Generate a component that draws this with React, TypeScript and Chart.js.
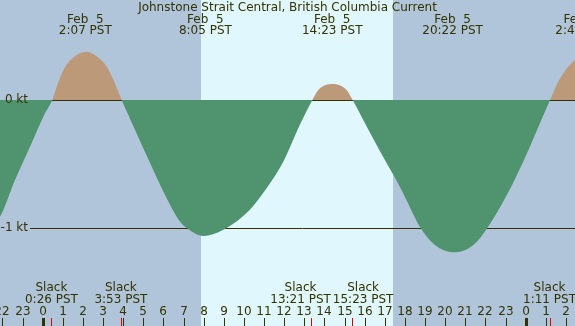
import React, { useEffect, useRef } from "react";
import { Chart, registerables } from "chart.js";

Chart.register(...registerables);

const TITLE = "Johnstone Strait Central, British Columbia Current";

// Current speed (kt) against hours since Feb 5 00:00 PST
const curveHours = [
  -3.2, -2.122, -1.376, -0.631, 0.114, 0.477, 0.775, 1.108, 1.441, 2.15, 2.847, 3.18,
  3.508, 3.925, 4.55, 5.3, 6.08, 6.82, 7.16, 7.98, 9.14, 10.22, 10.88, 11.96, 12.79, 13.4,
  13.69, 14.41, 15.1, 15.4, 16.06, 16.76, 17.51, 17.95, 18.78, 19.49, 20.4, 21.4, 22.09,
  23.06, 23.88, 24.6, 25.21, 25.71, 26.45, 26.78, 27.5,
];
const curveSpeeds = [
  -1.02, -0.91, -0.625, -0.365, -0.104, 0, 0.14, 0.255, 0.32, 0.377, 0.32, 0.26,
  0.16, 0, -0.22, -0.48, -0.742, -0.95, -1.0, -1.0625, -1.0, -0.87, -0.742, -0.48, -0.19, 0,
  0.078, 0.125, 0.078, 0, -0.195, -0.4, -0.61, -0.742, -1.0, -1.133, -1.19, -1.133, -1.0,
  -0.742, -0.48, -0.22, 0, 0.17, 0.3125, 0.34, 0.3,
];

const extremeHours = [2.117, 8.083, 14.383, 20.367, 26.783];
const extremeDates = ["Feb  5", "Feb  5", "Feb  5", "Feb  5", "Feb  6"];
const extremeTimes = ["2:07 PST", "8:05 PST", "14:23 PST", "20:22 PST", "2:47 PST"];

const slackHours = [0.433, 3.883, 13.35, 15.383, 25.183];
const slackWord = "Slack";
const slackTimes = ["0:26 PST", "3:53 PST", "13:21 PST", "15:23 PST", "1:11 PST"];

const levelValues = [0, -1];
const levelLabels = ["0 kt", "-1 kt"];

const sunriseHour = 7.87;
const sunsetHour = 17.41;

const axisMinHour = -2.122;
const axisMaxHour = 26.449;
const speedMin = -1.765625;
const speedMax = 0.78125;

const NIGHT = "#b0c4da";
const DAY = "#e0f7fd";
const FLOOD = "#bc9a79";
const EBB = "#50946f";
const INK = "#333300";
const FONT = '12px "DejaVu Sans"';

export default function App() {
  const ref = useRef<HTMLCanvasElement | null>(null);

  useEffect(() => {
    document.body.style.margin = "0";
    const canvas = ref.current;
    if (!canvas) return;

    const backdrop = {
      id: "backdrop",
      beforeDraw(chart: any) {
        const { ctx, width, height } = chart;
        const xs = chart.scales.x;
        ctx.save();
        ctx.fillStyle = NIGHT;
        ctx.fillRect(0, 0, width, height);
        const a = Math.round(xs.getPixelForValue(sunriseHour));
        const b = Math.round(xs.getPixelForValue(sunsetHour));
        ctx.fillStyle = DAY;
        ctx.fillRect(a, 0, b - a, height);
        ctx.restore();
      },
      beforeDatasetsDraw(chart: any) {
        const { ctx, chartArea } = chart;
        const ys = chart.scales.y;
        ctx.save();
        ctx.strokeStyle = INK;
        ctx.lineWidth = 1;
        levelValues.forEach((v) => {
          const y = Math.round(ys.getPixelForValue(v)) + 0.5;
          ctx.beginPath();
          ctx.moveTo(30, y);
          ctx.lineTo(chartArea.right, y);
          ctx.stroke();
        });
        ctx.restore();
      },
    };

    const annotations = {
      id: "annotations",
      afterDraw(chart: any) {
        const { ctx, width, height } = chart;
        const xs = chart.scales.x;
        const ys = chart.scales.y;
        ctx.save();
        ctx.font = FONT;
        ctx.fillStyle = INK;
        ctx.textBaseline = "middle";

        ctx.textAlign = "center";
        ctx.fillText(TITLE, width / 2, 7.5);

        extremeHours.forEach((h, i) => {
          const x = xs.getPixelForValue(h);
          ctx.fillText(extremeDates[i], x, 19.5);
          ctx.fillText(extremeTimes[i], x, 31);
        });

        ctx.textAlign = "right";
        levelValues.forEach((v, i) => {
          ctx.fillText(levelLabels[i], 28, ys.getPixelForValue(v));
        });

        ctx.textAlign = "center";
        const centers = slackHours.map((h) => xs.getPixelForValue(h));
        const widths = slackTimes.map((t) =>
          Math.max(ctx.measureText(t).width, ctx.measureText(slackWord).width)
        );
        for (let i = 0; i < centers.length - 1; i++) {
          const need = (widths[i] + widths[i + 1]) / 2 + 2;
          const d = centers[i + 1] - centers[i];
          if (d < need) {
            const push = (need - d) / 2;
            centers[i] -= push;
            centers[i + 1] += push;
          }
        }
        centers.forEach((x, i) => {
          ctx.fillText(slackWord, x, 288);
          ctx.fillText(slackTimes[i], x, 299.5);
        });

        for (let h = Math.ceil(axisMinHour); h <= Math.floor(axisMaxHour) + 1; h++) {
          const x = Math.round(xs.getPixelForValue(h));
          const label = String(((h % 24) + 24) % 24);
          ctx.fillStyle = INK;
          ctx.fillText(label, x, 312);
          const w = h % 24 === 0 ? 3 : 1;
          ctx.fillRect(x - Math.floor(w / 2), 318, w, height - 318);
        }
        ctx.fillStyle = "#e00000";
        slackHours.forEach((h) => {
          const x = Math.round(xs.getPixelForValue(h));
          ctx.fillRect(x, 318, 1, height - 318);
        });
        ctx.restore();
      },
    };

    const chart = new Chart(canvas, {
      type: "line",
      data: {
        datasets: [
          {
            data: curveHours.map((h, i) => ({ x: h, y: curveSpeeds[i] })),
            borderWidth: 0,
            borderColor: "rgba(0,0,0,0)",
            pointRadius: 0,
            cubicInterpolationMode: "monotone",
            fill: { target: "origin", above: FLOOD, below: EBB },
          },
        ],
      },
      options: {
        responsive: false,
        animation: false,
        devicePixelRatio: 1,
        layout: { padding: 0 },
        plugins: { legend: { display: false }, tooltip: { enabled: false }, title: { display: false } },
        events: [],
        scales: {
          x: { type: "linear", min: axisMinHour, max: axisMaxHour, display: false },
          y: { type: "linear", min: speedMin, max: speedMax, display: false },
        },
      },
      plugins: [backdrop, annotations],
    });
    return () => chart.destroy();
  }, []);

  return (
    <div style={{ width: 575, height: 326 }}>
      <canvas ref={ref} width={575} height={326} style={{ display: "block", width: 575, height: 326 }} />
    </div>
  );
}
